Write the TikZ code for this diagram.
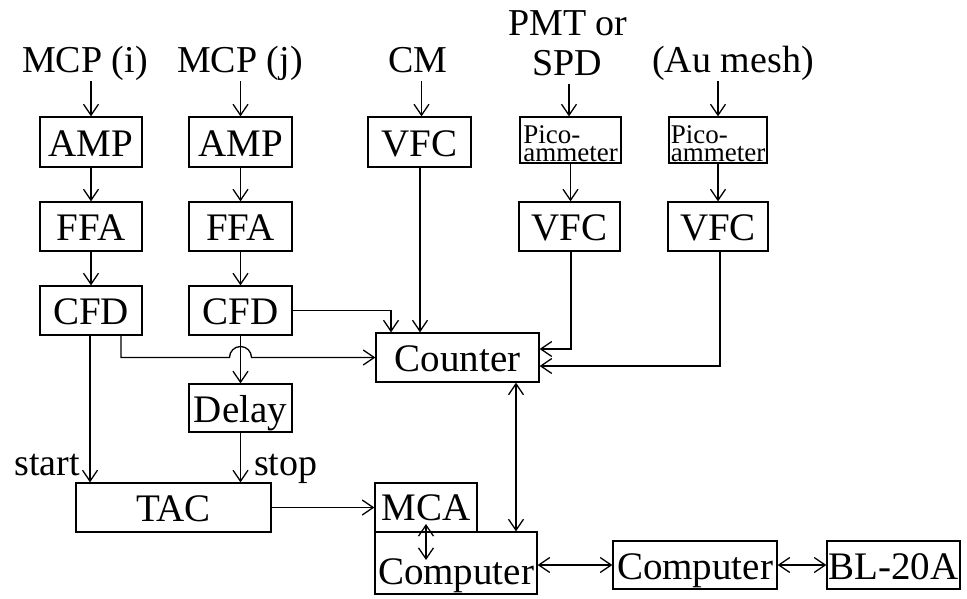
\documentclass[tikz,border=0pt]{standalone}
\usepackage{fontspec}
\setmainfont{Liberation Serif}
\usetikzlibrary{arrows.meta,calc}
\tikzset{
  blk/.style={draw, line width=1.3pt, inner sep=0pt, font=\fontsize{39}{41}\selectfont,
    text height=28pt, text depth=0pt},
  picobox/.style={draw, line width=1.3pt, inner sep=0pt, align=left,
    font=\fontsize{27}{18}\selectfont, text height=42pt, text depth=0pt},
  lbl/.style={inner sep=0pt, font=\fontsize{38}{40}\selectfont, text depth=9pt},
  wire/.style={line width=1.3pt},
  >={Straight Barb[length=11pt,width=15pt,line width=1.3pt]},
}
\begin{document}
\begin{tikzpicture}[x=1pt,y=-1pt]
\useasboundingbox (0,0) rectangle (967,598);

% input labels
\node[lbl, anchor=base] (inI)   at (85,72)  {MCP (i)};
\node[lbl, anchor=base] (inJ)   at (240,72) {MCP (j)};
\node[lbl, anchor=base] (inCM)  at (418,72) {CM};
\node[lbl, anchor=base] (inPMT) at (568,35) {PMT or};
\node[lbl, anchor=base] (inSPD) at (567,75) {SPD};
\node[lbl, anchor=base] (inAu)  at (733,72) {(Au mesh)};

% channel i
\node[blk, minimum width=102, minimum height=50] (ampI) at (91,142)   {AMP};
\node[blk, minimum width=102, minimum height=49] (ffaI) at (91,226.5) {FFA};
\node[blk, minimum width=102, minimum height=49] (cfdI) at (91,310.5) {CFD};
% channel j
\node[blk, minimum width=103, minimum height=50] (ampJ) at (240.5,142)   {AMP};
\node[blk, minimum width=103, minimum height=49] (ffaJ) at (240.5,226.5) {FFA};
\node[blk, minimum width=103, minimum height=49] (cfdJ) at (240.5,310.5) {CFD};
\node[blk, minimum width=103, minimum height=48] (delay) at (240.5,408) {Delay};
% current monitors
\node[blk, minimum width=103, minimum height=50] (vfcCM) at (419.5,142) {VFC};
\node[picobox, minimum width=101, minimum height=46] (picoA) at (570.5,140) {Pico-\\ammeter};
\node[picobox, minimum width=98, minimum height=46]  (picoB) at (718,140)   {Pico-\\ammeter};
\node[blk, minimum width=101, minimum height=49] (vfcA) at (569.5,226.5) {VFC};
\node[blk, minimum width=100, minimum height=49] (vfcB) at (718,226.5)   {VFC};
% counting and acquisition
\node[blk, minimum width=163, minimum height=49] (counter) at (457.5,357.5) {Counter};
\node[blk, minimum width=195, minimum height=49, text height=27pt] (tac) at (173.5,507.5) {TAC};
\node[blk, minimum width=102, minimum height=49, text height=25pt] (mca) at (426,507.5) {MCA};
\node[blk, minimum width=162, minimum height=62, text height=48pt, text depth=6pt] (compA) at (456,563) {Computer};
\node[blk, minimum width=164, minimum height=48] (compB) at (695,565) {Computer};
\node[blk, minimum width=133, minimum height=48] (bl) at (893.5,565) {BL-20A};

% start / stop labels
\node[lbl, anchor=base east] (lstart) at (80,475)  {start};
\node[lbl, anchor=base west] (lstop)  at (254,475) {stop};

% helper points
\coordinate (cross) at (cfdJ.south |- counter.west);
\coordinate (mcaport) at ([yshift=-16.5pt]mca.center);
\coordinate (compport) at ([yshift=3pt]mca.center |- compA.center);

% signal chains
\draw[wire,->] (ampI.north |- inI.south) -- (ampI.north);
\draw[wire,->] (ampJ.north |- inJ.south) -- (ampJ.north);
\draw[wire,->] ([xshift=2pt]vfcCM.north |- inCM.south) -- ([xshift=2pt]vfcCM.north);
\draw[wire,->] ([xshift=-1.5pt]picoA.north |- inSPD.south) -- ([xshift=-1.5pt]picoA.north);
\draw[wire,->] (picoB.north |- inAu.south) -- (picoB.north);

\draw[wire,->] (ampI) -- (ffaI);
\draw[wire,->] (ffaI) -- (cfdI);
\draw[wire,->] (ampJ) -- (ffaJ);
\draw[wire,->] (ffaJ) -- (cfdJ);
\draw[wire,->] (picoA.south) -- (picoA.south |- vfcA.north);
\draw[wire,->] (picoB) -- (vfcB);

% into the counter
\draw[wire,->] (cfdJ.east) -| ([xshift=-66.5pt]counter.north);
\draw[wire,->] ([xshift=0.5pt]vfcCM.south) -- ([xshift=0.5pt]vfcCM.south |- counter.north);
\draw[wire,->] ([xshift=1.5pt]vfcA.south) |- ([yshift=8.5pt]counter.east);
\draw[wire,->] ([xshift=2pt]vfcB.south) |- ([yshift=-8.5pt]counter.east);
\draw[wire,->] ([xshift=30pt]cfdI.south) |- ([xshift=-11pt]cross)
  arc[start angle=180, end angle=0, radius=11pt] -- (counter.west);

% timing branch
\draw[wire,->] (cfdJ.south) -- (delay.north);
\draw[wire,->] ([xshift=-1pt]cfdI.south) -- ([xshift=-1pt]cfdI.south |- tac.north);
\draw[wire,->] (delay.south) -- (delay.south |- tac.north);
\draw[wire,->] (tac.east) -- (mca.west);

% data links
\draw[wire,<->] ([xshift=58.5pt]counter.south) -- ([xshift=58.5pt]counter.south |- compA.north);
\draw[wire,<->] (mcaport) -- (compport);
\draw[wire,<->] (compA.east |- compB.west) -- (compB.west);
\draw[wire,<->] (compB.east) -- (bl.west);
\end{tikzpicture}
\end{document}
